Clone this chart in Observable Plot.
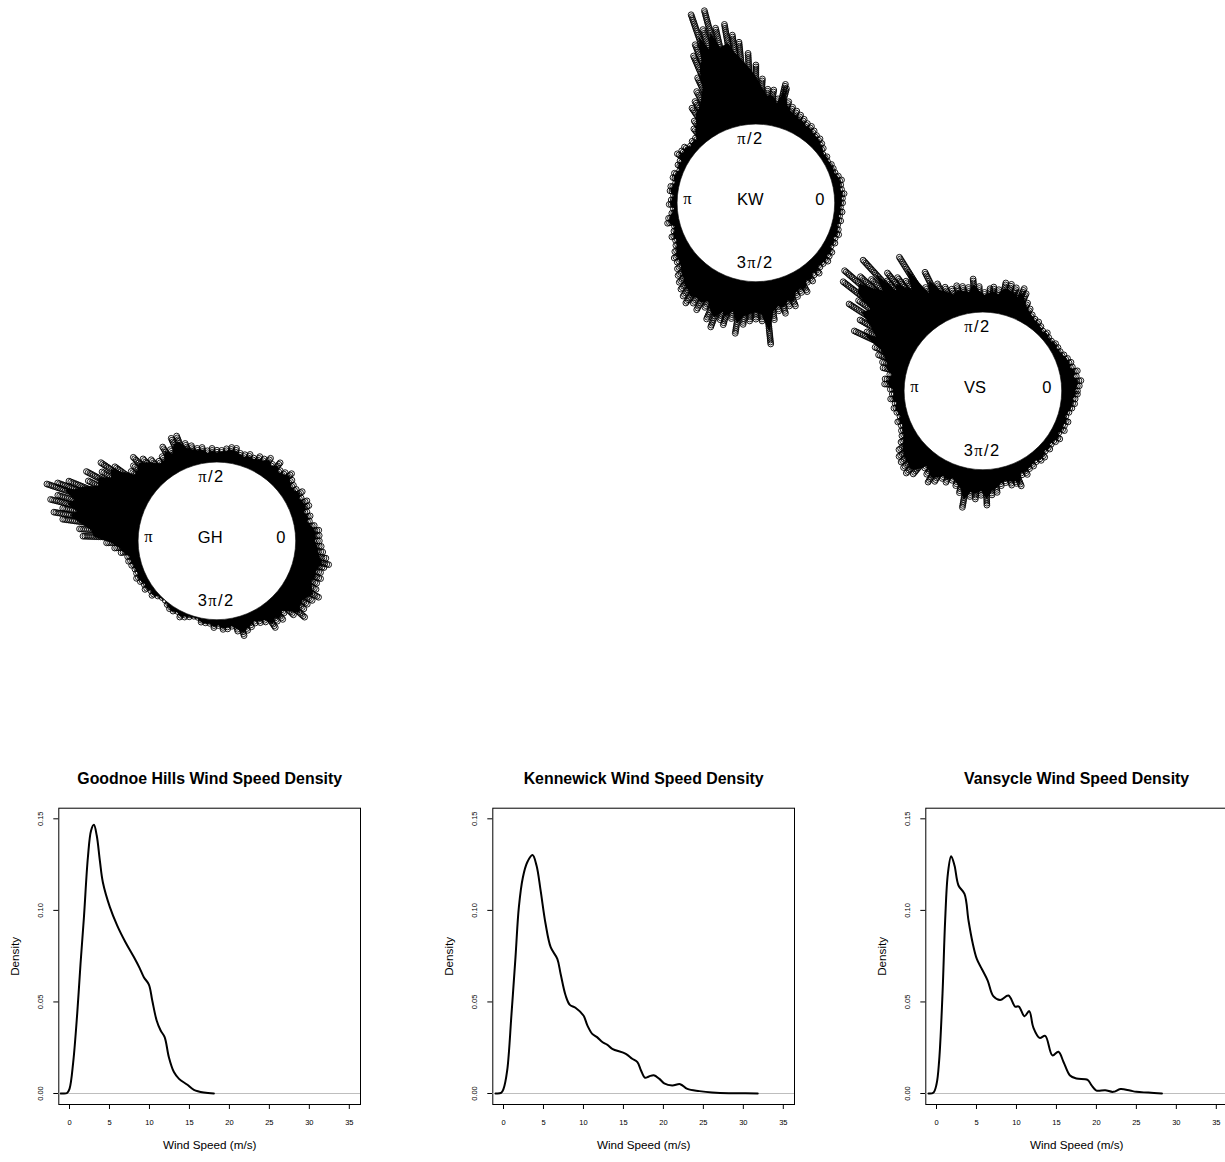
<!DOCTYPE html>
<html><head><meta charset="utf-8">
<script src="https://cdn.jsdelivr.net/npm/d3@7"></script>
<script src="https://cdn.jsdelivr.net/npm/@observablehq/plot@0.6"></script>
<style>
html,body{margin:0;padding:0;background:#fff}
#page{position:relative;width:1225px;height:1162px;overflow:hidden;background:#fff}
#page svg{position:absolute;background:transparent}
</style></head><body><div id="page"></div>
<script>
// direction (degrees) and tip radius (circle radius = 1)
const kwDir=[0,3,6,9,12,15,18,21,24,27,30,33,36,39,42,45,48,51,54,57,60,63,66,69,72,75,76,78,81,84,87,90,93,96,98,100,103,105,107,109,111,113,115,118,121,124,127,130,133,136,139,142,145,148,151,154,157,160,163,166,169,172,175,178,181,184,187,190,193,196,199,202,205,208,211,214,217,220,223,226,229,232,235,238,241,244,247,250,253,255,258,261,264,267,270,273,276,279,282,285,288,291,294,297,300,303,306,309,312,315,318,321,324,327,330,333,336,339,342,345,348,351,354,357];
const kwTip=[1.11,1.11,1.13,1.10,1.12,1.13,1.11,1.08,1.09,1.09,1.07,1.09,1.07,1.11,1.13,1.16,1.17,1.18,1.21,1.20,1.24,1.25,1.28,1.30,1.37,1.52,1.55,1.36,1.47,1.46,1.58,1.75,1.90,2.05,2.15,2.32,2.28,2.54,2.30,2.53,2.16,2.03,1.75,1.60,1.50,1.45,1.32,1.24,1.13,1.14,1.12,1.17,1.15,1.18,1.10,1.12,1.07,1.10,1.11,1.07,1.10,1.12,1.06,1.09,1.11,1.05,1.09,1.14,1.16,1.09,1.12,1.16,1.14,1.17,1.22,1.26,1.27,1.30,1.36,1.40,1.47,1.50,1.56,1.52,1.55,1.48,1.60,1.68,1.55,1.61,1.50,1.68,1.56,1.51,1.48,1.52,1.80,1.50,1.42,1.46,1.38,1.42,1.30,1.28,1.32,1.22,1.24,1.18,1.20,1.16,1.17,1.18,1.15,1.17,1.12,1.14,1.10,1.13,1.11,1.09,1.11,1.08,1.10,1.09];
const vsDir=[0,3,6,9,12,15,18,21,24,27,30,33,36,39,42,45,48,51,54,57,60,63,66,68,70,72,75,78,81,84,86,89,92,95,98,101,104,107,110,113,116,119,122,125,127,129,131,132.5,135,137,139,142,144,147,150,153,155,158,161,164,167,170,173,176,179,182,185,188,191,194,197,200,203,206,209,212,215,218,221,224,227,230,233,236,239,242,245,248,251,254,257,260,263,266,269,272,275,278,281,284,287,290,292,295,298,301,304,307,310,313,316,319,322,325,328,331,334,337,340,343,346,349,352,355,358];
const vsTip=[1.21,1.24,1.26,1.20,1.24,1.18,1.19,1.17,1.14,1.12,1.10,1.12,1.09,1.09,1.11,1.08,1.11,1.13,1.14,1.17,1.21,1.26,1.36,1.41,1.33,1.38,1.40,1.41,1.30,1.33,1.31,1.27,1.33,1.44,1.33,1.36,1.39,1.35,1.42,1.48,1.69,1.52,2.01,1.72,1.80,1.93,1.85,2.25,2.00,2.14,2.34,2.27,1.95,2.04,1.81,1.65,1.80,1.49,1.40,1.33,1.31,1.22,1.25,1.26,1.18,1.16,1.19,1.13,1.16,1.14,1.12,1.16,1.13,1.17,1.19,1.23,1.30,1.35,1.38,1.40,1.44,1.38,1.24,1.28,1.35,1.30,1.24,1.26,1.22,1.26,1.33,1.50,1.36,1.38,1.33,1.46,1.34,1.30,1.24,1.22,1.25,1.27,1.32,1.18,1.20,1.17,1.15,1.13,1.17,1.16,1.11,1.14,1.10,1.13,1.16,1.12,1.15,1.13,1.16,1.12,1.14,1.17,1.19,1.18,1.22];
const ghDir=[0,3,6,9,12,15,18,21,24,27,30,33,36,39,42,45,48,51,54,57,60,63,66,69,72,75,78,81,84,87,90,93,96,99,102,105,108,111,114,117,120,123,126,129,132,135,138,141,144,146,149,152,155,158,160,161.5,164,166,168,170,172,175,178,181,184,187,190,193,196,199,202,205,208,211,214,217,220,223,226,229,232,235,238,241,244,247,250,253,256,259,262,265,268,271,274,277,280,283,286,289,292,295,298,301,304,307,310,313,316,319,322,325,328,331,334,337,340,343,346,348,351,354,357];
const ghTip=[1.30,1.32,1.31,1.26,1.22,1.24,1.20,1.26,1.25,1.22,1.26,1.22,1.20,1.24,1.29,1.24,1.21,1.28,1.22,1.27,1.22,1.20,1.17,1.18,1.15,1.17,1.20,1.21,1.18,1.17,1.15,1.18,1.15,1.21,1.22,1.25,1.30,1.43,1.43,1.30,1.39,1.28,1.27,1.34,1.42,1.50,1.44,1.42,1.60,1.78,1.70,1.88,1.82,2.04,2.15,2.29,2.10,2.19,2.02,2.11,1.98,1.75,1.70,1.42,1.30,1.24,1.16,1.15,1.13,1.12,1.10,1.13,1.11,1.08,1.10,1.06,1.08,1.03,1.02,1.00,1.03,1.06,1.07,1.04,1.08,1.05,1.03,1.02,1.02,1.06,1.07,1.07,1.11,1.09,1.14,1.13,1.12,1.18,1.26,1.22,1.19,1.15,1.19,1.21,1.33,1.28,1.32,1.26,1.35,1.48,1.42,1.40,1.44,1.49,1.42,1.38,1.41,1.39,1.42,1.45,1.40,1.36,1.34];

const stations=[
  {name:"KW",dir:kwDir,tip:kwTip,left:755.8,top:202,nameX:-0.07},
  {name:"VS",dir:vsDir,tip:vsTip,left:982.8,top:390.2,nameX:-0.1},
  {name:"GH",dir:ghDir,tip:ghTip,left:216.7,top:540.8,nameX:-0.085}
];
const angleLabels=["0","π/2","π","3π/2"];

// wind speed density curves
const ghX=[-1.1,-0.8,-0.3,0,0.46,0.96,1.38,1.8,2.3,2.7,3.05,3.4,3.8,4.17,5.05,5.97,7,8.05,8.76,9.3,9.93,10.35,10.9,11.4,11.9,12.43,13.06,13.7,14.7,15.56,16.8,18.06];
const ghY=[0,0,0.0003,0.0025,0.017,0.0435,0.071,0.096,0.129,0.1436,0.1467,0.141,0.127,0.1154,0.1018,0.0917,0.0826,0.0745,0.0686,0.0635,0.0595,0.0508,0.0399,0.0344,0.0308,0.0198,0.0117,0.008,0.0049,0.002,0.0005,0];
const kwX=[-1,-0.3,0,0.46,1,1.5,1.92,2.42,2.97,3.63,4.13,4.64,5.26,5.9,6.73,7.14,7.77,8.3,9,10,10.5,11.1,11.7,12.4,13,13.6,15.3,16.1,16.75,17.2,17.7,18.2,18.8,19.5,20.1,21.1,22.1,23,24.5,26.1,28.2,30.3,31.8];
const kwY=[0,0.0003,0.0025,0.0126,0.0435,0.0745,0.1018,0.118,0.1263,0.1302,0.1245,0.1109,0.0927,0.0799,0.0735,0.0654,0.0535,0.0484,0.0468,0.0426,0.0371,0.0326,0.0308,0.028,0.0266,0.0244,0.0217,0.019,0.0171,0.0126,0.0086,0.0093,0.01,0.008,0.0056,0.0044,0.0051,0.0025,0.0013,0.0005,0.0001,0.0002,0];
const vsX=[-1,-0.4,0,0.33,0.75,1.08,1.42,1.83,2.25,2.75,3.5,4,4.5,5.04,5.67,6.4,7.1,7.96,9,9.83,10.3,11,11.6,12.1,12.9,13.6,14.5,15.25,15.9,16.7,17.5,18.9,19.4,20,21.1,22.1,23,24.2,25,26.5,28.2];
const vsY=[0,0.0004,0.005,0.018,0.0544,0.0945,0.12,0.1296,0.1245,0.1136,0.109,0.0945,0.0826,0.0735,0.068,0.0617,0.0532,0.0511,0.0535,0.0475,0.0475,0.0422,0.045,0.0362,0.0304,0.0315,0.0208,0.0228,0.0171,0.0098,0.0082,0.0075,0.0044,0.0016,0.0018,0.0009,0.0024,0.0016,0.0009,0.0005,0];
const speedTicks=[0,5,10,15,20,25,30,35];
const densityTicks=[0,0.05,0.1,0.15];
const panels=[
  {title:"Goodnoe Hills Wind Speed Density",xs:ghX,ys:ghY,left:0},
  {title:"Kennewick Wind Speed Density",xs:kwX,ys:kwY,left:434},
  {title:"Vansycle Wind Speed Density",xs:vsX,ys:vsY,left:867.4}
];

const page=document.getElementById("page");
const font="'Liberation Sans', Arial, sans-serif";
const U=78.8, HALF=3;

for(const s of stations){
  const tips=s.dir.map((d,i)=>({a:d*Math.PI/180,r:s.tip[i]}));
  const dots=tips.flatMap(t=>d3.range(1,t.r+0.001,0.025).map(r=>({x:r*Math.cos(t.a),y:r*Math.sin(t.a)})));
  const rim=tips.map(t=>{const r=1+(t.r-1)*0.8;return {x:r*Math.cos(t.a),y:r*Math.sin(t.a)}});
  rim.push(rim[0]);
  const labels=[
    {t:angleLabels[0],x:0.81,y:0.035},{t:angleLabels[1],x:-0.07,y:0.82},
    {t:angleLabels[2],x:-0.86,y:0.05},{t:angleLabels[3],x:-0.01,y:-0.757},
    {t:s.name,x:s.nameX,y:0.035}];
  const p=Plot.plot({
    width:2*HALF*U,height:2*HALF*U,margin:0,
    x:{domain:[-HALF,HALF],axis:null},y:{domain:[-HALF,HALF],axis:null},
    style:{fontFamily:font,background:"transparent"},
    marks:[
      Plot.line(rim,{x:"x",y:"y",fill:"black",stroke:"black",strokeWidth:0.5,curve:"linear"}),
      Plot.dot(dots,{x:"x",y:"y",r:2.9,stroke:"black",strokeWidth:0.9,fill:"none"}),
      Plot.dot([{x:0,y:0}],{x:"x",y:"y",r:U,fill:"white",stroke:"black",strokeWidth:0.6}),
      Plot.text(labels,{x:"x",y:"y",text:"t",fontSize:16.5,fill:"black",textAnchor:"middle",lineAnchor:"middle"})
    ]
  });
  p.style.left=(s.left-HALF*U)+"px"; p.style.top=(s.top-HALF*U)+"px";
  d3.select(p).selectAll("text").each(function(){
    const e=d3.select(this), tx=e.text();
    if(!tx.includes("π")) return;
    const parts=tx.split("π");
    e.text(null).attr("letter-spacing",1.4);
    if(parts[0]) e.append("tspan").text(parts[0]);
    e.append("tspan").attr("font-family","'Liberation Serif', serif").text("π");
    if(parts[1]) e.append("tspan").text(parts[1]);
  });
  page.appendChild(p);
}

for(const q of panels){
  const rows=q.xs.map((x,i)=>({x,y:q.ys[i]}));
  const p=Plot.plot({
    width:380,height:402,marginLeft:58.3,marginRight:20,marginTop:47.7,marginBottom:58,
    x:{domain:[-1.34,36.4]},y:{domain:[-0.006,0.1558]},
    style:{fontFamily:font,background:"transparent"},
    marks:[
      Plot.frame({stroke:"black",strokeWidth:1}),
      Plot.ruleY([0],{stroke:"#bebebe",strokeWidth:1}),
      Plot.line(rows,{x:"x",y:"y",stroke:"black",strokeWidth:2,curve:"catmull-rom"}),
      Plot.axisX({ticks:speedTicks,tickSize:5,tickPadding:10,fontSize:7.5,label:null,tickFormat:d=>String(d)}),
      Plot.axisY({ticks:densityTicks,tickSize:5,tickRotate:-90,tickPadding:11,fontSize:7.5,label:null,tickFormat:".2f"}),
      Plot.text([q.title],{frameAnchor:"top",dy:-29,fontSize:15.9,fontWeight:"bold",fill:"black",lineAnchor:"middle"}),
      Plot.text(["Wind Speed (m/s)"],{frameAnchor:"bottom",dy:41,fontSize:11.7,fill:"black",lineAnchor:"middle"}),
      Plot.text(["Density"],{frameAnchor:"left",dx:-43.5,rotate:-90,textAnchor:"middle",lineAnchor:"middle",fontSize:11.7,fill:"black"})
    ]
  });
  p.style.left=q.left+"px"; p.style.top="760px";
  page.appendChild(p);
}
</script></body></html>
